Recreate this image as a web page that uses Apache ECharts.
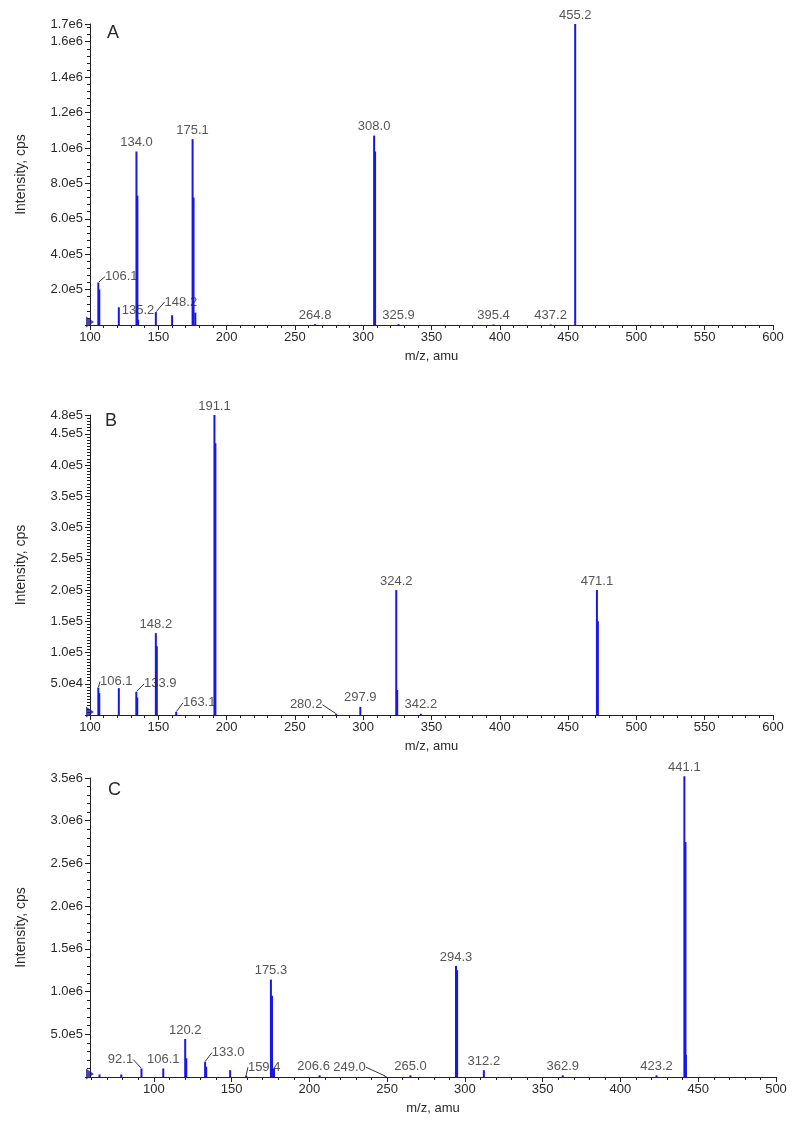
<!DOCTYPE html>
<html><head><meta charset="utf-8">
<script src="https://cdn.jsdelivr.net/npm/echarts@6/dist/echarts.min.js"></script>
<style>html,body{margin:0;padding:0;background:#fff}#chart{width:800px;height:1123px}</style>
</head><body><div id="chart"></div>
<script>
// ---------- Panel A ----------
const mzA  = [106.1, 106.8, 121.1, 134.0, 134.7, 135.2, 148.2, 160.1, 175.1, 175.8, 177.1, 264.8, 308.0, 308.7, 325.9, 395.4, 437.2, 455.2];
const intA = [2.4e5, 2.0e5, 1.0e5, 9.8e5, 7.3e5, 3.0e4, 7.3e4, 5.5e4, 1.05e6, 7.2e5, 7.0e4, 5e3, 1.07e6, 9.8e5, 5e3, 3e3, 3e3, 1.70e6];
const labelsA = [106.1, 134.0, 135.2, 148.2, 175.1, 264.8, 308.0, 325.9, 395.4, 437.2, 455.2];
const xTicksA = [100, 150, 200, 250, 300, 350, 400, 450, 500, 550, 600];

// ---------- Panel B ----------
const mzB  = [106.1, 106.8, 121.1, 133.9, 134.6, 148.2, 148.9, 163.1, 191.1, 191.8, 280.2, 297.9, 324.2, 324.9, 342.2, 471.1, 471.8];
const intB = [4.4e4, 3.5e4, 4.3e4, 3.7e4, 2.8e4, 1.31e5, 1.1e5, 5e3, 4.8e5, 4.35e5, 2e3, 1.3e4, 2.0e5, 4.0e4, 2e3, 2.0e5, 1.5e5];
const labelsB = [106.1, 133.9, 148.2, 163.1, 191.1, 280.2, 297.9, 324.2, 342.2, 471.1];
const xTicksB = [100, 150, 200, 250, 300, 350, 400, 450, 500, 550, 600];

// ---------- Panel C ----------
const mzC  = [65.1, 79.1, 92.1, 106.1, 120.2, 120.9, 133.0, 133.7, 149.1, 159.4, 175.3, 176.0, 177.3, 206.6, 249.0, 265.0, 294.3, 295.0, 312.2, 362.9, 423.2, 441.1, 441.8, 442.1];
const intC = [3.0e4, 3.0e4, 1.0e5, 1.0e5, 4.45e5, 2.2e5, 1.8e5, 1.2e5, 8.0e4, 2.0e4, 1.14e6, 9.5e5, 1.0e5, 2.0e4, 1.0e4, 2.0e4, 1.30e6, 1.25e6, 8.0e4, 2.0e4, 2.0e4, 3.52e6, 2.75e6, 2.6e5];
const labelsC = [92.1, 106.1, 120.2, 133.0, 159.4, 175.3, 206.6, 249.0, 265.0, 294.3, 312.2, 362.9, 423.2, 441.1];
const xTicksC = [100, 150, 200, 250, 300, 350, 400, 450, 500];

// ---------- layout / style (not data) ----------
const leader = { // label displacement in px for labels with guide lines
  'A106.1': [23, 3], 'A148.2': [25, -1],
  'B106.1': [18, 3], 'B133.9': [24, 1], 'B163.1': [23, 0], 'B280.2': [-30, 0],
  'C92.1': [-21, 0], 'C133.0': [23, 0], 'C159.4': [18, 1], 'C249.0': [-36, 0]
};
const shift = { 'C206.6': [-6, 0] }; // plain label displacement, no guide line
const panels = [
  {key:'A', mz:mzA, it:intA, labels:labelsA, xt:xTicksA, xmin:100, xmax:600, ymax:1.7e6, yint:2e5, ymin:5,  grid:{left:90, right:27, top:24, height:301}, letter:[107,24]},
  {key:'B', mz:mzB, it:intB, labels:labelsB, xt:xTicksB, xmin:100, xmax:600, ymax:4.8e5, yint:5e4, ymin:10, grid:{left:90, right:27, top:415, height:300}, letter:[105,412]},
  {key:'C', mz:mzC, it:intC, labels:labelsC, xt:xTicksC, xmin:59,  xmax:500, ymax:3.5e6, yint:5e5, ymin:5,  grid:{left:90, right:24, top:778, height:299}, letter:[108,781]}
];

const FONT = 'Liberation Sans, Arial, sans-serif';
const TXT = '#2a2a2a';
const BLUE = '#1717e6';

const grid = [], xAxis = [], yAxis = [], series = [], graphic = [];
panels.forEach((p, i) => {
  grid.push(p.grid);
  const minor = [];
  for (let v = Math.ceil(p.xmin / 10) * 10; v <= p.xmax; v += 10) if (v % 50 !== 0) minor.push(v);
  xAxis.push({
    type:'value', gridIndex:i, min:p.xmin, max:p.xmax, position:'bottom',
    name:'m/z, amu', nameLocation:'middle', nameGap:25,
    nameTextStyle:{fontFamily:FONT, fontSize:13, color:TXT},
    axisLine:{show:true, onZero:false, lineStyle:{color:'#222', width:1}},
    axisTick:{show:true, length:5, customValues:p.xt, lineStyle:{color:'#222'}},
    axisLabel:{customValues:p.xt, margin:6, fontFamily:FONT, fontSize:13, color:TXT},
    splitLine:{show:false}
  });
  // minor ticks overlay axis
  xAxis.push({
    type:'value', gridIndex:i, min:p.xmin, max:p.xmax, position:'bottom',
    axisLine:{show:false},
    axisTick:{show:true, length:3, customValues:minor, lineStyle:{color:'#222'}},
    axisLabel:{show:false}, splitLine:{show:false}
  });
  yAxis.push({
    type:'value', gridIndex:i, min:0, max:p.ymax, interval:p.yint,
    name:'Intensity, cps', nameLocation:'middle', nameGap:62,
    nameTextStyle:{fontFamily:FONT, fontSize:14, color:TXT},
    axisLine:{show:true, lineStyle:{color:'#222', width:1}},
    axisTick:{show:true, length:5, lineStyle:{color:'#222'}},
    minorTick:{show:true, splitNumber:p.ymin, length:3, lineStyle:{color:'#222'}},
    axisLabel:{margin:7, fontFamily:FONT, fontSize:13, color:TXT,
      formatter: v => v === 0 ? '' : v.toExponential(1).replace('+', '')},
    splitLine:{show:false}
  });
  series.push({
    type:'bar', xAxisIndex:i*2, yAxisIndex:i, barWidth:2, clip:false,
    itemStyle:{color:BLUE}, silent:true, animation:false,
    data:p.mz.map((m, k) => [m, p.it[k]])
  });
  series.push({
    type:'scatter', xAxisIndex:i*2, yAxisIndex:i, symbolSize:1, animation:false, silent:true,
    clip:false, itemStyle:{color:'rgba(0,0,0,0)'}, z:5,
    label:{show:true, position:'top', distance:2, fontFamily:FONT, fontSize:13, color:TXT,
      formatter: d => d.value[0].toFixed(1)},
    labelLine:{show:false},
    labelLayout: prm => {
      const id = p.key + p.labels[prm.dataIndex].toFixed(1);
      const off = leader[id] || shift[id];
      return off ? {dx:off[0], dy:off[1]} : {};
    },
    data:p.labels.map(m => {
      const k = p.mz.indexOf(m);
      const item = {value:[m, p.it[k]]};
      if (leader[p.key + m.toFixed(1)]) item.labelLine = {show:true, length2:0, lineStyle:{color:'#333', width:1}};
      return item;
    })
  });
  series.push({
    type:'scatter', xAxisIndex:i*2, yAxisIndex:i, animation:false, silent:true, z:6,
    symbol:'path://M0,0 L10,6 L0,12 Z', symbolSize:[8,11], symbolOffset:[0,-3],
    itemStyle:{color:'#1a1a8c'},
    data:[[p.xmin, 0]]
  });
  graphic.push({type:'text', left:p.letter[0], top:p.letter[1],
    style:{text:p.key, fontFamily:FONT, fontSize:18, fill:TXT}});
});

const chart = echarts.init(document.getElementById('chart'), null, {renderer:'canvas'});
chart.setOption({animation:false, backgroundColor:'#fff', grid, xAxis, yAxis, series, graphic});
</script></body></html>
